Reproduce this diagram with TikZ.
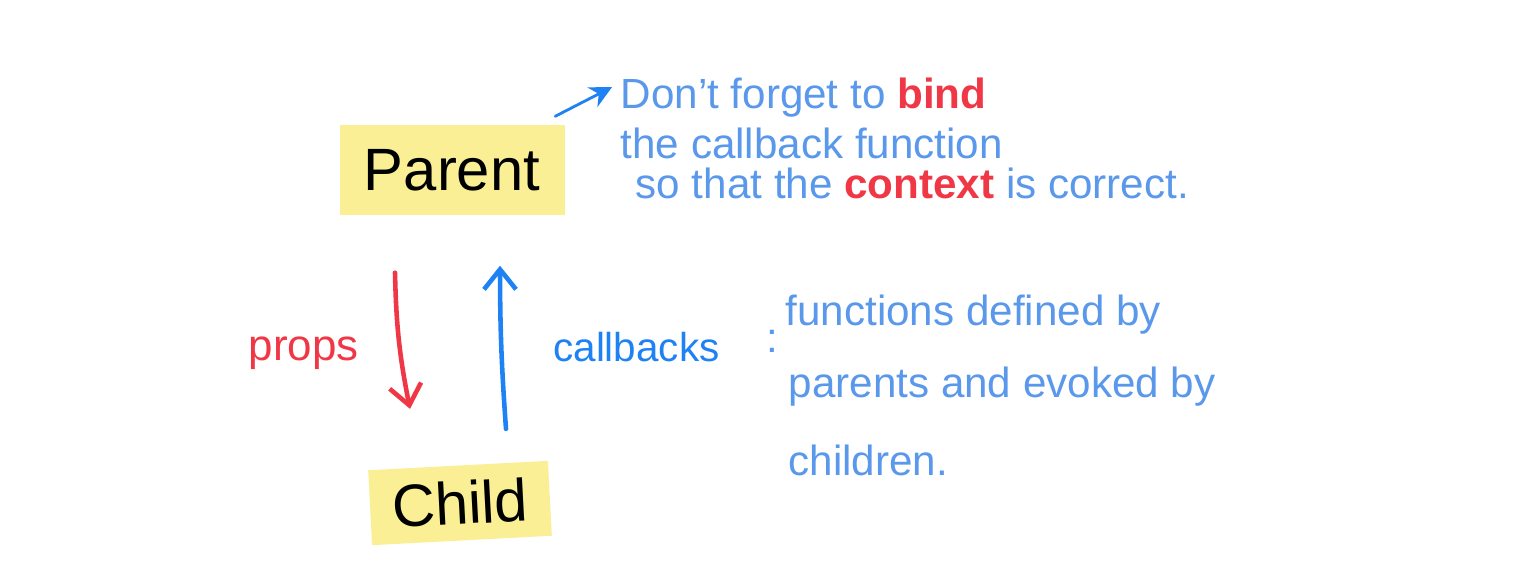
\documentclass[tikz,border=0pt]{standalone}
\usepackage{fontspec}
\setmainfont{Liberation Sans}
\usetikzlibrary{arrows.meta,positioning}
\definecolor{propred}{RGB}{240,55,70}
\definecolor{cbblue}{RGB}{30,130,245}
\definecolor{noteblue}{RGB}{90,152,235}
\definecolor{marker}{RGB}{250,236,130}
\newcommand{\hotword}[1]{\textcolor{propred}{\bfseries #1}}
\tikzset{
	marked/.style = {fill = marker, fill opacity = 0.85, text opacity = 1, inner sep = 0pt, font = \fontsize{17}{20}\selectfont},
	flow/.style = {line width = 1.3pt, line cap = round, -{Straight Barb[length = 2mm, width = 3.2mm]}},
	note/.style = {text = noteblue, anchor = base west, inner sep = 0pt, font = \fontsize{12}{14}\selectfont},
	pointer/.style = {draw = cbblue, line width = 0.8pt, line cap = round, -{Stealth[length = 2.2mm, width = 2.2mm]}}
}
\begin{document}
\begin{tikzpicture}
	\useasboundingbox (0,0) rectangle (15.36,5.76);
	% the two components
	\node [marked, minimum width = 2.25cm, minimum height = 0.9cm] (parent) at (4.52,4.06) {Parent};
	\node [marked, minimum width = 1.8cm, minimum height = 0.75cm, rotate = 3] (child) at (4.6,0.73) {Child};
	% data down, calls up
	\draw [flow, propred] ([xshift = -0.57cm, yshift = -0.57cm]parent.south) to [bend right = 5]
		node [pos = 0.6, left = 2.8mm, text = propred, font = \fontsize{12.5}{14}\selectfont] (props) {props}
		([xshift = -0.48cm, yshift = 0.56cm]child.north);
	\draw [flow, cbblue] ([xshift = 0.48cm, yshift = 0.36cm]child.north) to [bend left = 2]
		node [midway, right = 3.8mm, text = cbblue, font = \fontsize{11.5}{14}\selectfont] (callbacks) {callbacks}
		([xshift = 0.48cm, yshift = -0.5cm]parent.south);
	\node [note] (colon) at (7.66,2.24) {:};
	% explanation of callbacks
	\node [note] (def1) at (7.85,2.51) {functions defined by};
	\node [note] (def2) at (7.88,1.79) {parents and evoked by};
	\node [note] (def3) at (7.88,1.01) {children.};
	% reminder about binding
	\node [note] (remind1) at (6.2,4.68) {Don't forget to \hotword{bind}};
	\node [note] (remind2) at (6.2,4.18) {the callback function};
	\node [note] (remind3) at (6.35,3.78) {so that the \hotword{context} is correct.};
	\draw [pointer] ([xshift = -0.1cm, yshift = 0.08cm]parent.north east) -- ([xshift = -0.08cm, yshift = 0.1cm]remind1.west);
\end{tikzpicture}
\end{document}
